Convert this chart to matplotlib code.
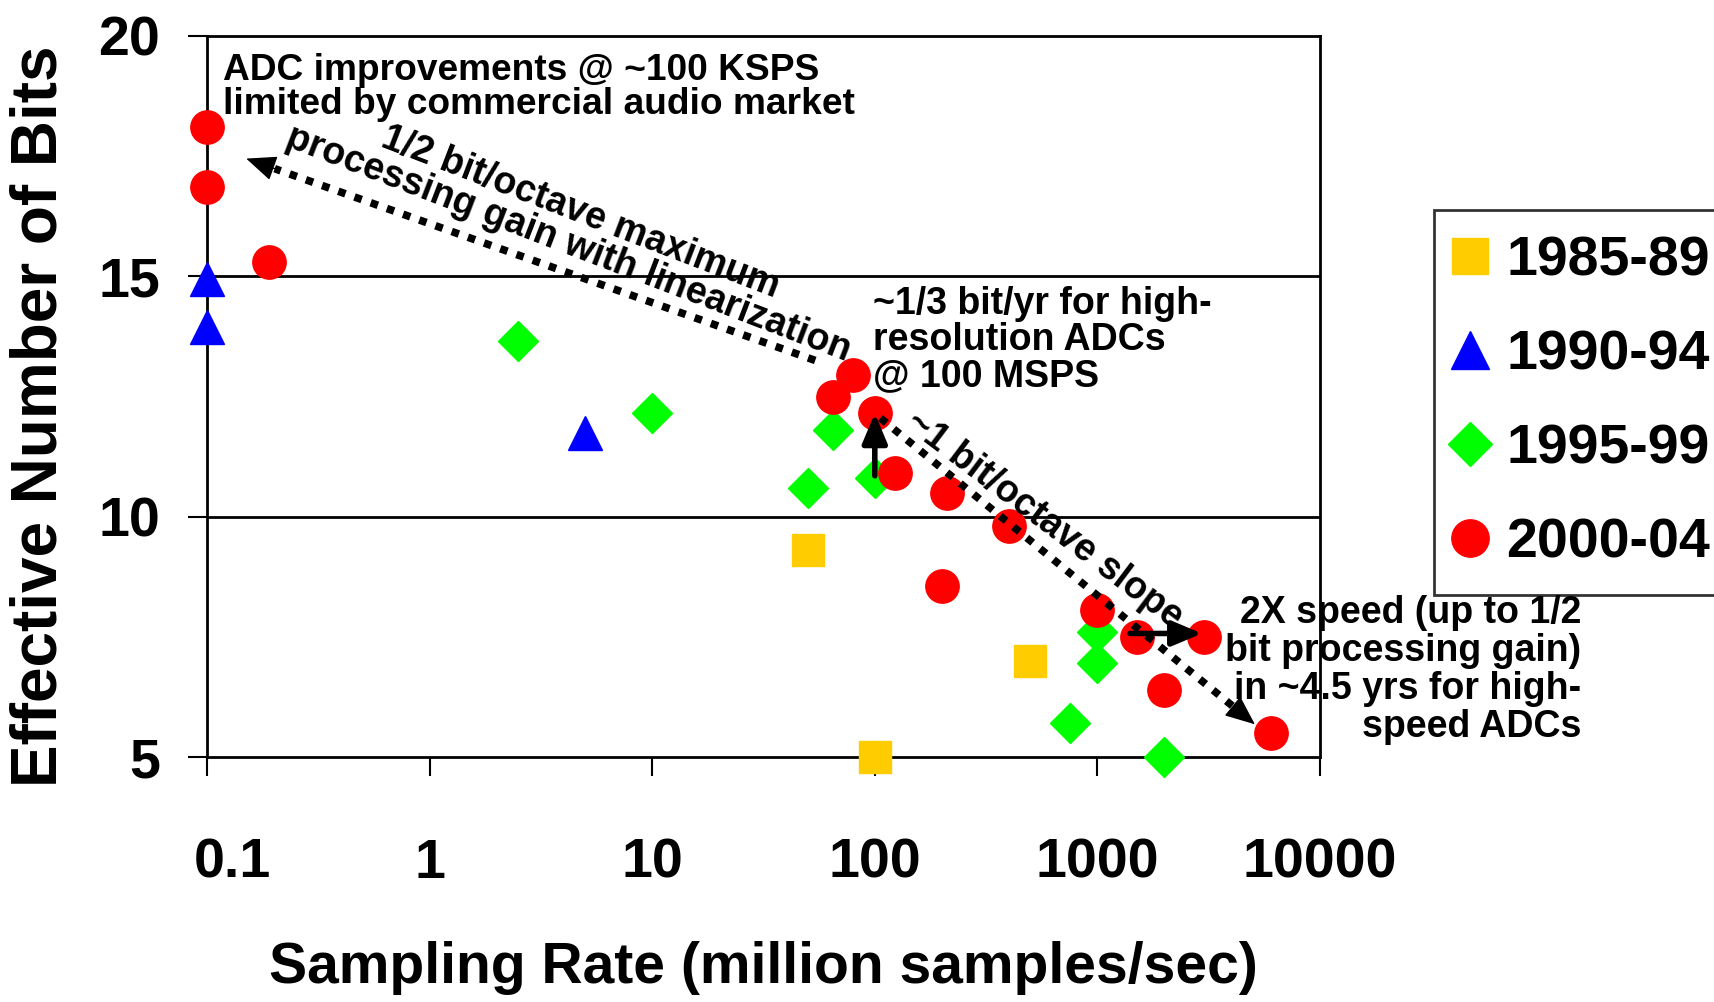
import matplotlib
matplotlib.use("Agg")
import matplotlib.pyplot as plt
import numpy as np

plt.rcParams["font.family"] = ["Liberation Sans", "DejaVu Sans"]
plt.rcParams["font.weight"] = "bold"

# --- data (x = MSPS, y = ENOB) ---
x_8589 = [50, 500, 100]
y_8589 = [9.3, 7.0, 5.0]

x_9094 = [0.1, 0.1, 5]
y_9094 = [14.95, 13.95, 11.75]

x_9599 = [2.5, 10, 65, 50, 100, 1000, 1000, 750, 2000]
y_9599 = [13.65, 12.15, 11.8, 10.6, 10.8, 7.6, 6.95, 5.7, 5.0]

x_0004 = [0.1, 0.1, 0.19, 65, 80, 100, 123, 210, 400, 200, 1000, 1500, 3000, 2000, 6000]
y_0004 = [18.1, 16.85, 15.3, 12.5, 12.95, 12.15, 10.9, 10.5, 9.8, 8.55, 8.05, 7.5, 7.5, 6.4, 5.5]

series_labels = ["1985-89", "1990-94", "1995-99", "2000-04"]
xtick_vals = [0.1, 1, 10, 100, 1000, 10000]
xtick_labels = ["0.1", "1", "10", "100", "1000", "10000"]
ytick_vals = [5, 10, 15, 20]

fig = plt.figure(figsize=(17.15, 10.02), dpi=100)
fig.patch.set_facecolor("white")
ax = fig.add_axes([207 / 1715, 1 - 757 / 1002, (1320 - 207) / 1715, (757 - 36) / 1002])

ax.set_xscale("log")
ax.set_xlim(0.1, 10000)
ax.set_ylim(5, 20)

for y in [10, 15]:
    ax.axhline(y, color="black", lw=2, zorder=1)

ax.plot(x_8589, y_8589, "s", color="#FFCC00", ms=23, ls="none", clip_on=False,
        zorder=3, label=series_labels[0])
ax.plot(x_9094, y_9094, "^", color="#0000FF", ms=24, ls="none", clip_on=False,
        zorder=3, label=series_labels[1])
ax.plot(x_9599, y_9599, "D", color="#00FF00", ms=20, ls="none", clip_on=False,
        zorder=3, label=series_labels[2])
ax.plot(x_0004, y_0004, "o", color="#FF0000", ms=24, ls="none", clip_on=False,
        zorder=4, label=series_labels[3])

head = "-|>,head_length=1.0,head_width=0.42"


def dotted_arrow(start, end):
    # dotted body, separate filled head at the end
    lx0, lx1 = np.log10(start[0]), np.log10(end[0])
    f = 0.95
    mid = (10 ** (lx0 + f * (lx1 - lx0)), start[1] + f * (end[1] - start[1]))
    ax.plot([start[0], mid[0]], [start[1], mid[1]], color="black", lw=5.5,
            ls=(0, (1, 1.25)), dash_capstyle="butt", zorder=5)
    ax.annotate("", xy=end, xytext=mid, zorder=5,
                arrowprops=dict(arrowstyle=head, color="black", lw=1,
                                mutation_scale=19, shrinkA=0, shrinkB=0))


dotted_arrow((54, 13.25), (0.15, 17.45))
dotted_arrow((106, 12.05), (5100, 5.68))

solid = dict(arrowstyle=head, color="black", lw=4, mutation_scale=18,
             shrinkA=0, shrinkB=0)
ax.annotate("", xy=(100, 12.15), xytext=(100, 10.85), arrowprops=solid, zorder=5)
ax.annotate("", xy=(2950, 7.57), xytext=(1400, 7.57), arrowprops=solid, zorder=5)

# --- annotations ---
ax.text(0.1186, 19.65, "ADC improvements @ ~100 KSPS\nlimited by commercial audio market",
        fontsize=26.7, ha="left", va="top", linespacing=0.98, zorder=6)
ax.text(4.47, 16.0, "1/2 bit/octave maximum\nprocessing gain with linearization",
        fontsize=27, ha="center", va="center", rotation=-21, rotation_mode="anchor",
        linespacing=0.95, zorder=6)
ax.text(98, 14.8, "~1/3 bit/yr for high-\nresolution ADCs\n@ 100 MSPS",
        fontsize=27, ha="left", va="top", linespacing=1.0, zorder=6)
ax.text(580, 9.94, "~1 bit/octave slope", fontsize=27, ha="center", va="center",
        rotation=-37, rotation_mode="anchor", zorder=6)
ax.text(10 ** 5.174, 8.38, "2X speed (up to 1/2\nbit processing gain)\nin ~4.5 yrs for high-\nspeed ADCs",
        fontsize=27, ha="right", va="top", multialignment="right", linespacing=1.08,
        zorder=6)

# --- axes styling ---
ax.set_xticks(xtick_vals)
ax.set_xticklabels(xtick_labels)
ax.minorticks_off()
ax.set_yticks(ytick_vals)
ax.tick_params(axis="both", direction="out", length=14, width=1.5, labelsize=40,
               color="black")
ax.tick_params(axis="x", pad=44)
ax.tick_params(axis="y", pad=20)
# first x label sits a little right of its tick in the reference
first = ax.get_xticklabels()[0]
first.set_horizontalalignment("left")
first.set_transform(first.get_transform() + matplotlib.transforms.ScaledTranslation(
    -13 / 100, 0, fig.dpi_scale_trans))
for sp in ax.spines.values():
    sp.set_linewidth(2)
    sp.set_color("black")

fig.text(763 / 1715, 1 - 968 / 1002, "Sampling Rate (million samples/sec)",
         fontsize=41, fontweight="bold", ha="center", va="center")
fig.text(40 / 1715, 1 - 416 / 1002, "Effective Number of Bits", fontsize=46,
         rotation=90, ha="center", va="center")

leg = ax.legend(loc="upper left", bbox_to_anchor=(1434 / 1715, 1 - 210 / 1002),
                bbox_transform=fig.transFigure, borderaxespad=0, fontsize=40,
                frameon=True, fancybox=False, edgecolor="black", handlelength=0.4,
                handletextpad=0.45, borderpad=0.45, labelspacing=0.76, numpoints=1,
                markerscale=1.12)
leg.get_frame().set_linewidth(2)

fig.savefig("out.png", dpi=100)
